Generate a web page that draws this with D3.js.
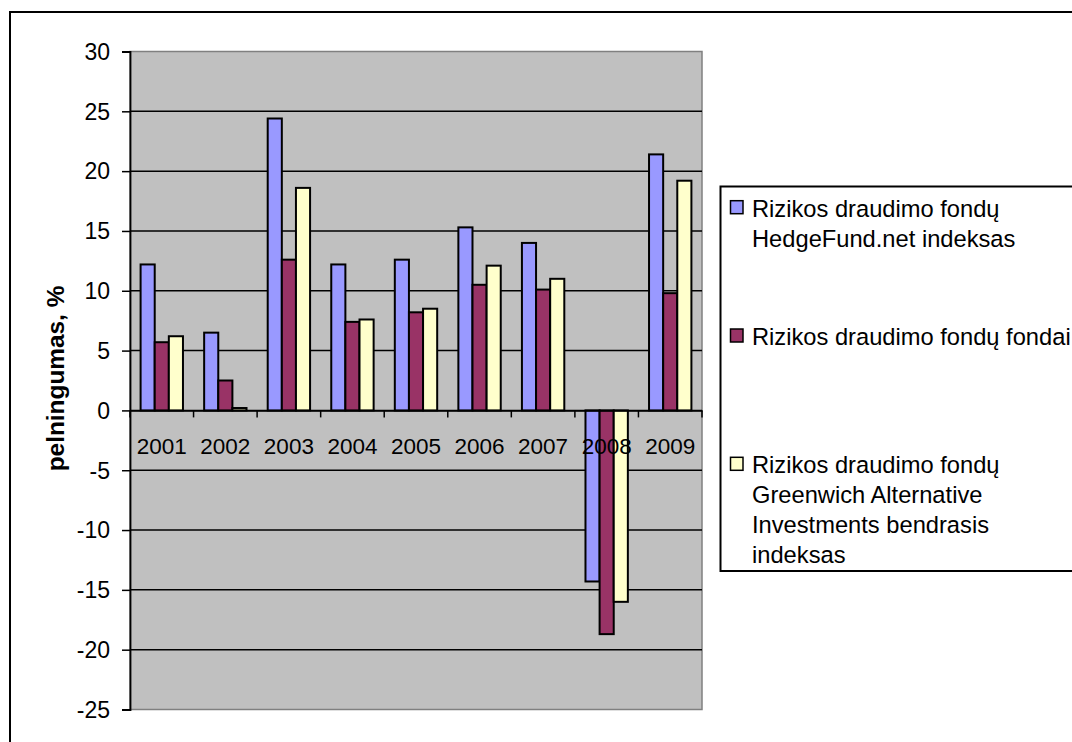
<!DOCTYPE html>
<html>
<head>
<meta charset="utf-8">
<script src="https://cdn.jsdelivr.net/npm/d3@7"></script>
<style>
  html, body { margin: 0; padding: 0; background: #fff; }
  svg { display: block; font-family: "Liberation Sans", Arial, sans-serif; }
</style>
</head>
<body>
<svg id="chart" width="1072" height="742"></svg>
<script>
// Annual returns (%) of hedge fund indices
const years = ["2001", "2002", "2003", "2004", "2005", "2006", "2007", "2008", "2009"];
const hedgeFundNet = [12.2, 6.5, 24.4, 12.2, 12.6, 15.3, 14.0, -14.3, 21.4];
const fundsOfFunds = [5.7, 2.5, 12.6, 7.4, 8.2, 10.5, 10.1, -18.7, 9.8];
const greenwichIndex = [6.2, 0.2, 18.6, 7.6, 8.5, 12.1, 11.0, -16.0, 19.2];

const seriesNames = [
  ["Rizikos draudimo fondų", "HedgeFund.net indeksas"],
  ["Rizikos draudimo fondų fondai"],
  ["Rizikos draudimo fondų", "Greenwich Alternative", "Investments bendrasis", "indeksas"]
];
const seriesColors = ["#9999FF", "#993366", "#FFFFCC"];
const yTicks = [30, 25, 20, 15, 10, 5, 0, -5, -10, -15, -20, -25];
const yTitle = "pelningumas, %";

const series = [hedgeFundNet, fundsOfFunds, greenwichIndex];

const svg = d3.select("#chart");

// Outer chart frame
svg.append("rect")
  .attr("x", 10).attr("y", 12)
  .attr("width", 1100).attr("height", 760)
  .attr("fill", "#fff").attr("stroke", "#000").attr("stroke-width", 2);

const plot = { left: 130, right: 702, top: 51.5, bottom: 709.5 };

const x = d3.scaleBand().domain(years).range([plot.left, plot.right]).padding(0);
const gap = x.bandwidth() * 1.5 / 4.5;
const xs = d3.scaleBand().domain(d3.range(series.length))
  .range([gap / 2, x.bandwidth() - gap / 2]).padding(0);
const y = d3.scaleLinear().domain([-25, 30]).range([plot.bottom, plot.top]);

// Plot area
svg.append("rect")
  .attr("x", plot.left).attr("y", plot.top)
  .attr("width", plot.right - plot.left).attr("height", plot.bottom - plot.top)
  .attr("fill", "#C0C0C0").attr("stroke", "#808080").attr("stroke-width", 1.5);

// Horizontal gridlines
svg.append("g")
  .selectAll("line")
  .data(yTicks.filter(t => t !== 30 && t !== -25))
  .join("line")
  .attr("x1", plot.left).attr("x2", plot.right)
  .attr("y1", d => y(d)).attr("y2", d => y(d))
  .attr("stroke", "#000").attr("stroke-width", 1.5);

// Bars
const groups = svg.append("g")
  .selectAll("g")
  .data(series)
  .join("g")
  .attr("fill", (d, i) => seriesColors[i]);

groups.selectAll("rect")
  .data((vals, si) => vals.map((v, i) => ({ v, year: years[i], si })))
  .join("rect")
  .attr("x", d => x(d.year) + xs(d.si))
  .attr("width", xs.bandwidth())
  .attr("y", d => y(Math.max(0, d.v)))
  .attr("height", d => Math.abs(y(d.v) - y(0)))
  .attr("stroke", "#000").attr("stroke-width", 2);

// Value axis
const yAxis = d3.axisLeft(y).tickValues(yTicks).tickSize(8).tickPadding(12).tickFormat(d => String(d));
const gy = svg.append("g").attr("transform", `translate(${plot.left},0)`).call(yAxis);
gy.select(".domain").attr("stroke", "#000").attr("stroke-width", 1.8);
gy.selectAll(".tick line").attr("stroke", "#000").attr("stroke-width", 1.5);
gy.selectAll(".tick text")
  .attr("font-size", "23px").attr("fill", "#000")
  .attr("font-family", "Liberation Sans, Arial, sans-serif")
  .attr("dy", "0.34em");

// Category axis on the zero line
const xAxis = d3.axisBottom(x).tickSize(0).tickPadding(0);
const gx = svg.append("g").attr("transform", `translate(0,${y(0)})`).call(xAxis);
gx.select(".domain").attr("stroke", "#000").attr("stroke-width", 1.5);
gx.selectAll(".tick text")
  .attr("font-size", "22.5px").attr("fill", "#000")
  .attr("font-family", "Liberation Sans, Arial, sans-serif")
  .attr("y", 44).attr("dy", 0);

// Category boundary ticks
svg.append("g")
  .selectAll("line")
  .data(years.concat([null]))
  .join("line")
  .attr("x1", d => d === null ? plot.right : x(d))
  .attr("x2", d => d === null ? plot.right : x(d))
  .attr("y1", y(0)).attr("y2", y(0) + 7)
  .attr("stroke", "#000").attr("stroke-width", 1.5);

// Axis title
svg.append("text")
  .attr("transform", `translate(64,${(plot.top + plot.bottom) / 2 - 2}) rotate(-90)`)
  .attr("text-anchor", "middle")
  .attr("font-size", "24.4px").attr("font-weight", "bold")
  .text(yTitle);

// Legend
const legend = svg.append("g");
legend.append("rect")
  .attr("x", 720.5).attr("y", 186.5)
  .attr("width", 400).attr("height", 384.5)
  .attr("fill", "#fff").attr("stroke", "#000").attr("stroke-width", 2);

const entryTops = [216.7, 345, 473.3];
const lineH = 30;
seriesNames.forEach((lines, i) => {
  const base = entryTops[i];
  legend.append("rect")
    .attr("x", 730.5).attr("y", base - 16)
    .attr("width", 12.5).attr("height", 13)
    .attr("fill", seriesColors[i]).attr("stroke", "#000").attr("stroke-width", 1.5);
  const t = legend.append("text")
    .attr("font-size", "23.7px").attr("fill", "#000");
  lines.forEach((ln, j) => {
    t.append("tspan").attr("x", 752).attr("y", base + j * lineH).text(ln);
  });
});
</script>
</body>
</html>
